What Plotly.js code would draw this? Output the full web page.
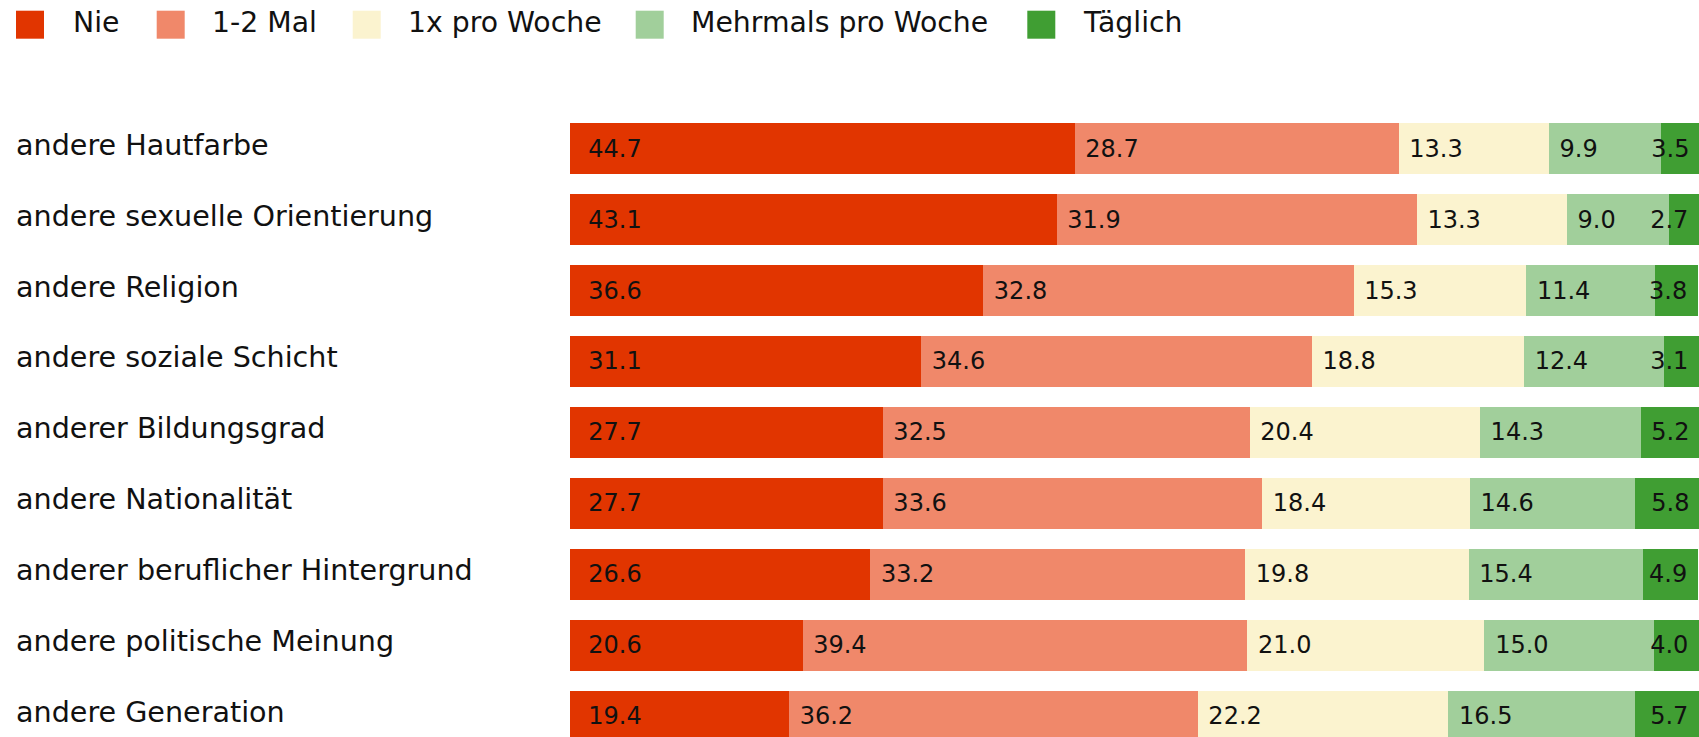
<!DOCTYPE html>
<html><head><meta charset="utf-8">
<script src="https://cdn.plot.ly/plotly-3.0.1.min.js"></script>
<style>html,body{margin:0;padding:0;background:#fff;} #chart{width:1699px;height:737px;}</style>
</head><body><div id="chart"></div>
<script>
const categories = ["andere Hautfarbe","andere sexuelle Orientierung","andere Religion","andere soziale Schicht","anderer Bildungsgrad","andere Nationalität","anderer beruflicher Hintergrund","andere politische Meinung","andere Generation"];
const seriesNames = ["Nie","1-2 Mal","1x pro Woche","Mehrmals pro Woche","Täglich"];
const nie        = [44.7,43.1,36.6,31.1,27.7,27.7,26.6,20.6,19.4];
const einZweiMal = [28.7,31.9,32.8,34.6,32.5,33.6,33.2,39.4,36.2];
const proWoche   = [13.3,13.3,15.3,18.8,20.4,18.4,19.8,21.0,22.2];
const mehrmals   = [9.9,9.0,11.4,12.4,14.3,14.6,15.4,15.0,16.5];
const taeglich   = [3.5,2.7,3.8,3.1,5.2,5.8,4.9,4.0,5.7];
const seriesValues = [nie, einZweiMal, proWoche, mehrmals, taeglich];
const colors = ["#e13500","#f0886a","#fbf3cf","#a1cf9b","#409e33"];

const FONT = "DejaVu Sans";
const W = 1699, H = 737, ML = 570, MT = 80;
const PW = W - ML, PH = H - MT;
const px = x => (x - ML) / PW;
const py = y => (H - y) / PH;

const NB = "\u00a0";
const traces = seriesValues.map((vals, k) => ({
  type: "bar",
  orientation: "h",
  y: categories,
  x: vals,
  name: seriesNames[k],
  marker: {color: colors[k], line: {width: 0}},
  texttemplate: k === 0 ? NB + NB + "%{x:.1f}" : (k === 4 ? "%{x:.1f}" + NB : NB + "%{x:.1f}"),
  textposition: "inside",
  insidetextanchor: k === 4 ? "end" : "start",
  textangle: 0,
  constraintext: "none",
  textfont: {family: FONT, size: 24, color: "#111"},
  hoverinfo: "skip"
}));

const annotations = [];
const shapes = [];
categories.forEach(c => {
  annotations.push({xref: "paper", yref: "y", x: px(14), y: c, text: c, xanchor: "left", yanchor: "middle",
    yshift: 4, showarrow: false, font: {family: FONT, size: 28.6, color: "#111"}});
});
const legendSw = [16, 156.7, 352.7, 635.7, 1027.3];
const legendTx = [71, 210, 406, 689, 1081];
seriesNames.forEach((n, k) => {
  shapes.push({type: "rect", xref: "paper", yref: "paper", x0: px(legendSw[k]), x1: px(legendSw[k] + 28),
    y0: py(38.7), y1: py(10.7), fillcolor: colors[k], line: {width: 0}});
  annotations.push({xref: "paper", yref: "paper", x: px(legendTx[k]), y: py(23), text: n, xanchor: "left", yanchor: "middle",
    showarrow: false, font: {family: FONT, size: 28.3, color: "#111"}});
});

const layout = {
  width: W, height: H,
  margin: {l: ML, r: 0, t: MT, b: 0, pad: 0},
  barmode: "stack",
  bargap: 0.285,
  showlegend: false,
  paper_bgcolor: "#fff", plot_bgcolor: "#fff",
  font: {family: FONT, color: "#111"},
  xaxis: {range: [0, 100], visible: false, fixedrange: true},
  yaxis: {type: "category", range: [8.295, -0.968], showticklabels: false, showgrid: false, zeroline: false, showline: false, ticks: "", fixedrange: true},
  annotations: annotations,
  shapes: shapes
};
Plotly.newPlot("chart", traces, layout, {displayModeBar: false, staticPlot: true});
</script></body></html>
